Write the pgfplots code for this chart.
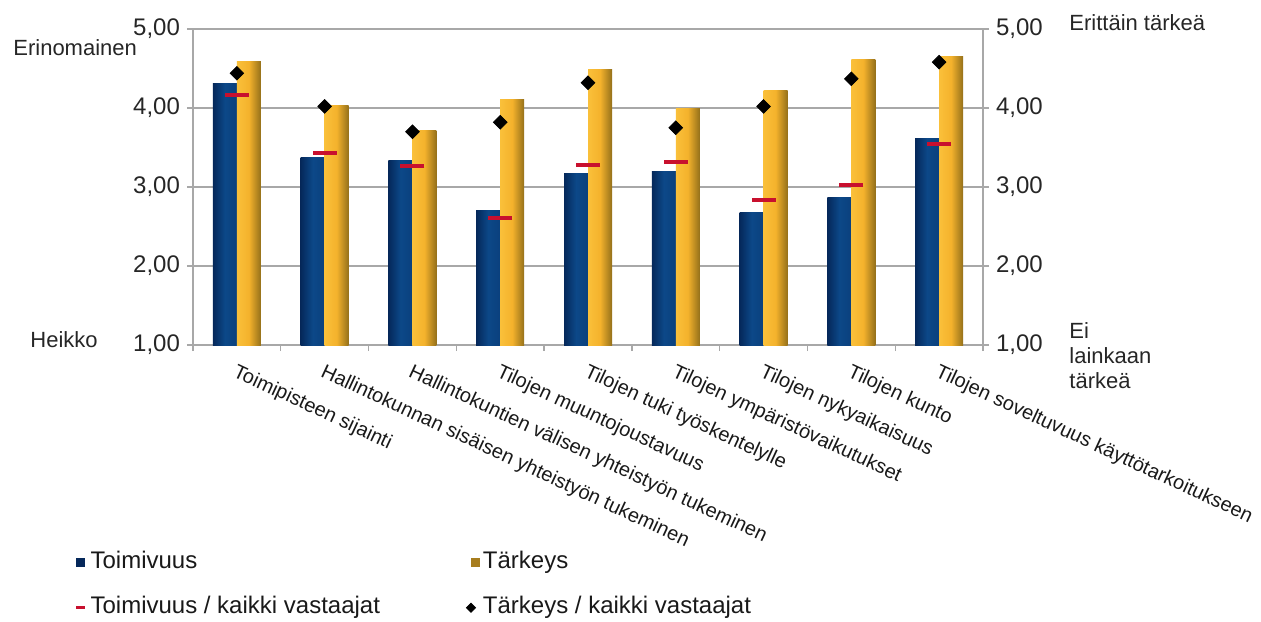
\documentclass[border=0pt]{standalone}
\usepackage{fontspec}
\setmainfont{Liberation Sans}
\usepackage{pgfplots}
\pgfplotsset{compat=1.18}

\definecolor{navyA}{HTML}{0C4888}
\definecolor{navyD}{HTML}{05285A}
\definecolor{goldL}{HTML}{FAC03A}
\definecolor{goldA}{HTML}{F4B22C}
\definecolor{goldD}{HTML}{94701A}
\definecolor{dashred}{HTML}{C8102E}
\definecolor{gridgray}{HTML}{A8A8A8}

\pgfplotstableread{
x toim tark toimall tarkall
0 4.31 4.59 4.16 4.44
1 3.37 4.03 3.43 4.02
2 3.34 3.71 3.26 3.70
3 2.70 4.11 2.61 3.82
4 3.17 4.49 3.28 4.32
5 3.19 3.99 3.32 3.75
6 2.68 4.22 2.84 4.02
7 2.87 4.61 3.03 4.37
8 3.62 4.65 3.54 4.58
}\datatable

\begin{document}
\begin{tikzpicture}
\useasboundingbox (-96.5pt,-138pt) rectangle (534pt,172.5pt);
\begin{axis}[
  at={(0,0)}, anchor=south west,
  scale only axis, width=395pt, height=158pt,
  xmin=-0.5, xmax=8.5, ymin=1, ymax=5,
  ytick={1,2,3,4,5},
  ytick pos=left, xtick pos=bottom,
  ymajorgrids, major grid style={gridgray, line width=0.7pt},
  axis line style={gridgray, line width=0.7pt},
  tick style={gridgray, line width=0.7pt},
  tick align=outside, major tick length=3pt, minor tick length=3pt,
  xtick={0,...,8},
  xticklabels={Toimipisteen sijainti,Hallintokunnan sisäisen yhteistyön tukeminen,Hallintokuntien välisen yhteistyön tukeminen,Tilojen muuntojoustavuus,Tilojen tuki työskentelylle,Tilojen ympäristövaikutukset,Tilojen nykyaikaisuus,Tilojen kunto,Tilojen soveltuvuus käyttötarkoitukseen},
  major x tick style={draw=none},
  minor xtick={-0.5,0.5,...,8.5},
  xticklabel style={rotate=-25, anchor=north west, font=\fontsize{10}{11}\selectfont, inner sep=1pt, xshift=2pt, yshift=-4pt, text=black!90},
  yticklabel style={font=\fontsize{12}{14}\selectfont, text=black!85},
  /pgf/number format/.cd, fixed, fixed zerofill, precision=2, use comma, assume math mode=true,
  /pgfplots/.cd,
  legend columns=2, legend cell align=left,
  legend style={at={(axis description cs:-0.1494,-0.651)}, anchor=north west,
    draw=none, fill=none, inner sep=0pt, outer sep=0pt, row sep=10.5pt,
    font=\fontsize{12}{14}\selectfont,
    nodes={inner sep=0pt, text height=9pt, text depth=3pt, text=black!90},
    /tikz/every even column/.append style={column sep=43pt},
    /tikz/every odd column/.append style={column sep=1.8pt}},
]
\addlegendimage{legend image code/.code={\fill[navyD] (0pt,-2pt) rectangle (4pt,2pt);}}
\addlegendentry{Toimivuus}
\addlegendimage{legend image code/.code={\fill[goldD!80!goldA] (0pt,-2pt) rectangle (4pt,2pt);}}
\addlegendentry{Tärkeys}
\addlegendimage{legend image code/.code={\draw[dashred, line width=1.5pt] (0pt,0pt) -- (4.5pt,0pt);}}
\addlegendentry{Toimivuus / kaikki vastaajat}
\addlegendimage{legend image code/.code={\fill[black, rotate=45] (-1.6pt,-1.6pt) rectangle (1.6pt,1.6pt);}}
\addlegendentry{Tärkeys / kaikki vastaajat}
\pgfplotsinvokeforeach{0,...,8}{
  \addplot[forget plot, ybar, bar width=12pt, bar shift=-6pt, draw=none,
    left color=navyD, right color=navyA!75!navyD, middle color=navyA,
    restrict x to domain=#1:#1]
    table[x=x, y=toim] {\datatable};
  \addplot[forget plot, ybar, bar width=12pt, bar shift=6pt, draw=none,
    left color=goldL, right color=goldD, middle color=goldA,
    restrict x to domain=#1:#1]
    table[x=x, y=tark] {\datatable};
}
\addplot[forget plot, only marks, mark=-, mark size=6pt, mark options={dashred, line width=2pt}]
  table[x=x, y=toimall] {\datatable};
\addplot[forget plot, only marks, mark=square*, mark size=2.4pt, mark options={black, rotate=45}]
  table[x=x, y=tarkall] {\datatable};
\end{axis}
\begin{axis}[
  at={(0,0)}, anchor=south west,
  scale only axis, width=395pt, height=158pt,
  xmin=-0.5, xmax=8.5, ymin=1, ymax=5,
  hide x axis, axis y line*=right,
  ytick={1,2,3,4,5},
  axis line style={gridgray, line width=0.7pt},
  tick style={gridgray, line width=0.7pt},
  tick align=outside, major tick length=3pt,
  yticklabel style={font=\fontsize{12}{14}\selectfont, text=black!85},
  /pgf/number format/.cd, fixed, fixed zerofill, precision=2, use comma, assume math mode=true,
  /pgfplots/.cd,
]
\addplot[draw=none, forget plot] coordinates {(0,1)};
\end{axis}
\node[anchor=west, inner sep=0pt, font=\fontsize{11}{13}\selectfont, text=black!85] at (-90pt,148.5pt) {Erinomainen};
\node[anchor=west, inner sep=0pt, font=\fontsize{11}{13}\selectfont, text=black!85] at (-81.5pt,2.5pt) {Heikko};
\node[anchor=west, inner sep=0pt, font=\fontsize{11}{13}\selectfont, text=black!85] at (438pt,161pt) {Erittäin tärkeä};
\node[anchor=north west, inner sep=0pt, align=left, font=\fontsize{11}{12.5}\selectfont, text=black!85] at (438pt,11.5pt) {Ei\\lainkaan\\tärkeä};
\end{tikzpicture}
\end{document}
